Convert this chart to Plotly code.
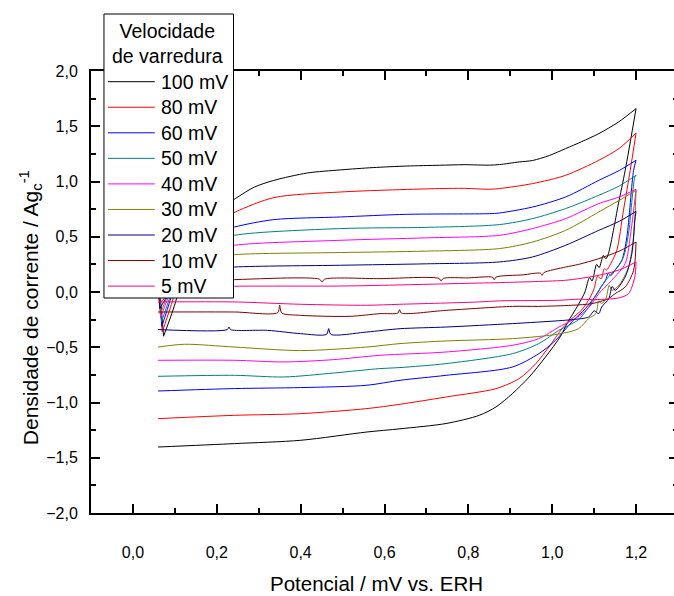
import plotly.graph_objects as go

# Cyclic voltammograms at different scan rates (potential in V vs. RHE, current density in A/g)
scan_labels = ["100 mV", "80 mV", "60 mV", "50 mV", "40 mV", "30 mV", "20 mV", "10 mV", "5 mV"]
colors = ["#000000", "#FF0000", "#0000FF", "#008080", "#FF00FF",
          "#808000", "#000080", "#800000", "#FF0080"]

E_100 = [0.060, 0.073, 0.104, 0.130, 0.170, 0.244, 0.290, 0.336, 0.416, 0.495, 0.573, 0.653, 0.731,
         0.790, 0.850, 0.874, 0.921, 0.953, 0.993, 1.032, 1.070, 1.111, 1.158, 1.200,
         1.174, 1.158, 1.146, 1.134, 1.128, 1.122, 1.112, 1.106, 1.095, 1.089, 1.078, 1.066,
         1.052, 1.036, 1.020, 0.984, 0.945, 0.905, 0.866, 0.826, 0.747, 0.637, 0.558, 0.400,
         0.242, 0.060]
J_100 = [0.20, -0.40, -0.06, 0.45, 0.66, 0.845, 0.95, 1.01, 1.077, 1.105, 1.126, 1.14, 1.147,
         1.152, 1.148, 1.153, 1.177, 1.19, 1.235, 1.298, 1.36, 1.433, 1.538, 1.66,
         1.10, 0.80, 0.558, 0.347, 0.30, 0.33, 0.22, 0.25, 0.10, 0.13, 0.0, -0.09,
         -0.18, -0.28, -0.40, -0.588, -0.77, -0.92, -1.04, -1.116, -1.19, -1.238, -1.267, -1.342,
         -1.372, -1.403]

E_80 = [0.060, 0.070, 0.096, 0.130, 0.170, 0.244, 0.336, 0.495, 0.731, 0.790, 0.850, 0.874, 0.953,
        1.032, 1.111, 1.160, 1.200,
        1.186, 1.170, 1.154, 1.140, 1.130, 1.124, 1.117, 1.108, 1.100, 1.091, 1.071, 1.047, 1.024,
        0.992, 0.961, 0.921, 0.866, 0.747, 0.637, 0.558, 0.400, 0.242, 0.060]
J_80 = [0.20, -0.36, -0.06, 0.40, 0.58, 0.724, 0.854, 0.905, 0.936, 0.938, 0.930, 0.936, 0.981,
        1.056, 1.192, 1.30, 1.439,
        1.10, 0.74, 0.377, 0.26, 0.20, 0.21, 0.12, 0.14, 0.03, -0.045, -0.16, -0.24, -0.33,
        -0.498, -0.648, -0.784, -0.874, -0.95, -1.016, -1.055, -1.101, -1.116, -1.146]

E_60 = [0.060, 0.069, 0.090, 0.120, 0.170, 0.242, 0.336, 0.495, 0.653, 0.850, 0.874, 0.953, 1.032,
        1.111, 1.160, 1.200,
        1.194, 1.178, 1.166, 1.150, 1.140, 1.134, 1.127, 1.117, 1.107, 1.079, 1.047, 1.008, 0.968,
        0.905, 0.747, 0.637, 0.558, 0.400, 0.242, 0.060]
J_60 = [0.20, -0.31, -0.06, 0.35, 0.50, 0.588, 0.655, 0.679, 0.703, 0.709, 0.715, 0.769, 0.86,
        1.01, 1.10, 1.192,
        1.10, 0.498, 0.287, 0.20, 0.15, 0.17, 0.106, 0.05, -0.015, -0.15, -0.27, -0.437, -0.558,
        -0.679, -0.754, -0.799, -0.844, -0.865, -0.874, -0.896]

E_50 = [0.060, 0.068, 0.087, 0.120, 0.170, 0.242, 0.495, 0.700, 0.874, 0.953, 1.032, 1.111, 1.160,
        1.200,
        1.197, 1.182, 1.170, 1.155, 1.134, 1.111, 1.087, 1.063, 1.040, 1.016, 0.968, 0.905, 0.747,
        0.637, 0.589, 0.479, 0.360, 0.242, 0.060]
J_50 = [0.20, -0.27, -0.06, 0.30, 0.43, 0.513, 0.574, 0.585, 0.61, 0.664, 0.755, 0.875, 0.96,
        1.056,
        1.04, 0.528, 0.317, 0.22, 0.136, 0.015, -0.136, -0.25, -0.30, -0.347, -0.467, -0.558, -0.648,
        -0.684, -0.693, -0.733, -0.769, -0.754, -0.763]

E_40 = [0.060, 0.066, 0.083, 0.120, 0.170, 0.242, 0.495, 0.700, 0.874, 0.953, 1.032, 1.111, 1.160,
        1.200,
        1.186, 1.174, 1.142, 1.111, 1.095, 1.071, 1.040, 1.016, 0.968, 0.905, 0.747, 0.589, 0.479,
        0.360, 0.242, 0.060]
J_40 = [0.20, -0.23, -0.06, 0.27, 0.36, 0.423, 0.468, 0.49, 0.513, 0.574, 0.664, 0.80, 0.86,
        0.93,
        0.498, 0.257, 0.106, -0.015, -0.105, -0.20, -0.27, -0.317, -0.422, -0.482, -0.543, -0.573,
        -0.612, -0.633, -0.618, -0.618]

E_30 = [0.060, 0.065, 0.080, 0.120, 0.170, 0.242, 0.495, 0.700, 0.874, 0.953, 1.032, 1.111, 1.160,
        1.200,
        1.194, 1.182, 1.162, 1.150, 1.142, 1.136, 1.128, 1.118, 1.111, 1.104, 1.087, 1.063, 1.016,
        0.905, 0.747, 0.637, 0.558, 0.400, 0.242, 0.123, 0.060]
J_30 = [0.20, -0.20, -0.06, 0.22, 0.30, 0.338, 0.357, 0.37, 0.393, 0.452, 0.558, 0.724, 0.83,
        0.92,
        0.498, 0.226, 0.076, 0.03, 0.015, 0.06, -0.06, -0.105, -0.08, -0.196, -0.24, -0.331, -0.38,
        -0.422, -0.443, -0.467, -0.498, -0.53, -0.498, -0.473, -0.498]

E_20 = [0.060, 0.064, 0.080, 0.120, 0.170, 0.242, 0.495, 0.700, 0.874, 0.953, 1.032, 1.111, 1.160,
        1.200,
        1.197, 1.190, 1.174, 1.150, 1.143, 1.135, 1.118, 1.111, 1.100, 1.087, 1.047, 1.016, 0.905,
        0.747, 0.637, 0.558, 0.472, 0.467, 0.462, 0.400, 0.321, 0.233, 0.229, 0.225, 0.060]
J_20 = [0.20, -0.15, -0.05, 0.15, 0.20, 0.226, 0.242, 0.255, 0.272, 0.317, 0.423, 0.558, 0.64,
        0.73,
        0.649, 0.347, 0.136, 0.015, 0.05, -0.06, -0.136, -0.196, -0.17, -0.226, -0.25, -0.26, -0.286,
        -0.317, -0.332, -0.362, -0.383, -0.331, -0.383, -0.377, -0.347, -0.34, -0.317, -0.34, -0.34]

E_10 = [0.060, 0.063, 0.075, 0.120, 0.170, 0.242, 0.445, 0.451, 0.457, 0.589, 0.730, 0.735, 0.740,
        0.800, 0.858, 0.862, 0.866, 0.930, 0.972, 0.976, 0.980, 1.032, 1.063, 1.111, 1.160, 1.200,
        1.194, 1.174, 1.150, 1.134, 1.095, 1.047, 0.968, 0.905, 0.747, 0.640, 0.636, 0.632, 0.589,
        0.518, 0.400, 0.355, 0.350, 0.345, 0.242, 0.060]
J_10 = [0.15, -0.10, -0.06, 0.08, 0.10, 0.112, 0.116, 0.09, 0.116, 0.121, 0.123, 0.10, 0.123,
        0.128, 0.133, 0.11, 0.135, 0.155, 0.17, 0.15, 0.175, 0.226, 0.25, 0.302, 0.37, 0.452,
        0.196, 0.045, -0.015, -0.06, -0.105, -0.12, -0.13, -0.13, -0.166, -0.19, -0.16, -0.19, -0.196,
        -0.22, -0.211, -0.19, -0.12, -0.187, -0.181, -0.181]

E_5 = [0.060, 0.062, 0.070, 0.120, 0.242, 0.495, 0.589, 0.826, 0.874, 1.032, 1.063, 1.111, 1.160,
       1.200,
       1.197, 1.182, 1.158, 1.095, 1.063, 1.016, 0.874, 0.826, 0.637, 0.558, 0.400, 0.242, 0.060]
J_5 = [0.10, -0.07, -0.04, 0.04, 0.052, 0.054, 0.06, 0.081, 0.085, 0.106, 0.121, 0.151, 0.20,
       0.272,
       0.136, -0.015, -0.054, -0.069, -0.065, -0.075, -0.08, -0.09, -0.111, -0.12, -0.111, -0.09, -0.09]

potentials = [E_100, E_80, E_60, E_50, E_40, E_30, E_20, E_10, E_5]
currents = [J_100, J_80, J_60, J_50, J_40, J_30, J_20, J_10, J_5]

x_ticks = [0.0, 0.2, 0.4, 0.6, 0.8, 1.0, 1.2]
y_ticks = [-2.0, -1.5, -1.0, -0.5, 0.0, 0.5, 1.0, 1.5, 2.0]

FONT = "Liberation Sans, Arial, Helvetica, sans-serif"

# figure geometry (pixels); the plot frame runs slightly past the visible page on the right
W, H = 686, 596
ML, MR, MT, MB = 91, 6, 71, 83
PW, PH = W - ML - MR, H - MT - MB


def px_x(px):
    return (px - ML) / PW


def px_y(py):
    return (H - MB - py) / PH


def segments(E, J):
    """Split a voltammogram at its two turning points so the smooth
    branches keep sharp vertices: start transient, anodic sweep, cathodic sweep."""
    i_left = 1
    i_right = max(range(len(E)), key=lambda k: E[k])
    return [
        (E[:i_left + 1], J[:i_left + 1], "linear"),
        (E[i_left:i_right + 1], J[i_left:i_right + 1], "spline"),
        (E[i_right:], J[i_right:], "spline"),
    ]


fig = go.Figure()
for E, J, name, col in zip(potentials, currents, scan_labels, colors):
    for xs, ys, shape in segments(E, J):
        fig.add_trace(go.Scatter(x=xs, y=ys, mode="lines", name=name, showlegend=False,
                                 line=dict(color=col, width=1, shape=shape, smoothing=0.8)))

axis_common = dict(
    showline=True, linewidth=2, linecolor="black", mirror="ticks",
    ticks="inside", ticklen=9, tickwidth=1.5, tickcolor="black",
    showgrid=False, zeroline=False,
    tickfont=dict(family=FONT, size=16, color="black"),
)

fig.update_xaxes(range=[-0.1, 1.3], tickmode="array", tickvals=x_ticks, tickformat=".1f",
                 minor=dict(dtick=0.1, tick0=0, ticks="inside", ticklen=5, tickwidth=1.5,
                            tickcolor="black", showgrid=False),
                 ticklabelstandoff=24, **axis_common)
fig.update_yaxes(range=[-2.0, 2.0], tickmode="array", tickvals=y_ticks, tickformat=".1f",
                 minor=dict(dtick=0.25, tick0=0, ticks="inside", ticklen=5, tickwidth=1.5,
                            tickcolor="black", showgrid=False),
                 ticklabelstandoff=8, **axis_common)

shapes = []
annotations = []

# legend frame
LX0, LX1, LY0, LY1 = 104, 234, 14, 298
shapes.append(dict(type="rect", xref="paper", yref="paper", layer="above",
                   x0=px_x(LX0), x1=px_x(LX1), y0=px_y(LY1), y1=px_y(LY0),
                   fillcolor="white", line=dict(color="black", width=1)))
annotations.append(dict(xref="paper", yref="paper", x=px_x(168), y=px_y(43.5),
                        text="Velocidade<br>de varredura", showarrow=False,
                        xanchor="center", yanchor="middle", align="center",
                        font=dict(family=FONT, size=19.5, color="black")))
ENTRY_Y0, ENTRY_DY = 81.7, 25.55
for i, (name, col) in enumerate(zip(scan_labels, colors)):
    yy = ENTRY_Y0 + i * ENTRY_DY
    shapes.append(dict(type="line", xref="paper", yref="paper", layer="above",
                       x0=px_x(108), x1=px_x(155), y0=px_y(yy), y1=px_y(yy),
                       line=dict(color=col, width=1)))
    annotations.append(dict(xref="paper", yref="paper", x=px_x(159), y=px_y(yy),
                            text=name, showarrow=False, xanchor="left", yanchor="middle",
                            font=dict(family=FONT, size=19.5, color="black")))

# axis titles
annotations.append(dict(xref="paper", yref="paper", x=px_x(377), y=px_y(583),
                        text="Potencial / mV vs. ERH", showarrow=False,
                        xanchor="center", yanchor="middle",
                        font=dict(family=FONT, size=20.5, color="black")))
annotations.append(dict(xref="paper", yref="paper", x=px_x(30), y=px_y(308),
                        text="Densidade de corrente / Ag<sub>c</sub><sup>-1</sup>",
                        showarrow=False, textangle=-90, xanchor="center", yanchor="middle",
                        font=dict(family=FONT, size=21, color="black")))

fig.update_layout(
    width=W, height=H,
    margin=dict(l=ML, r=MR, t=MT, b=MB, pad=0),
    paper_bgcolor="white", plot_bgcolor="white",
    separators=",.",
    showlegend=False,
    shapes=shapes,
    annotations=annotations,
    font=dict(family=FONT, color="black"),
)

fig.write_html("out.html",
               post_script="document.body.style.margin='0';document.body.style.overflow='hidden';")
